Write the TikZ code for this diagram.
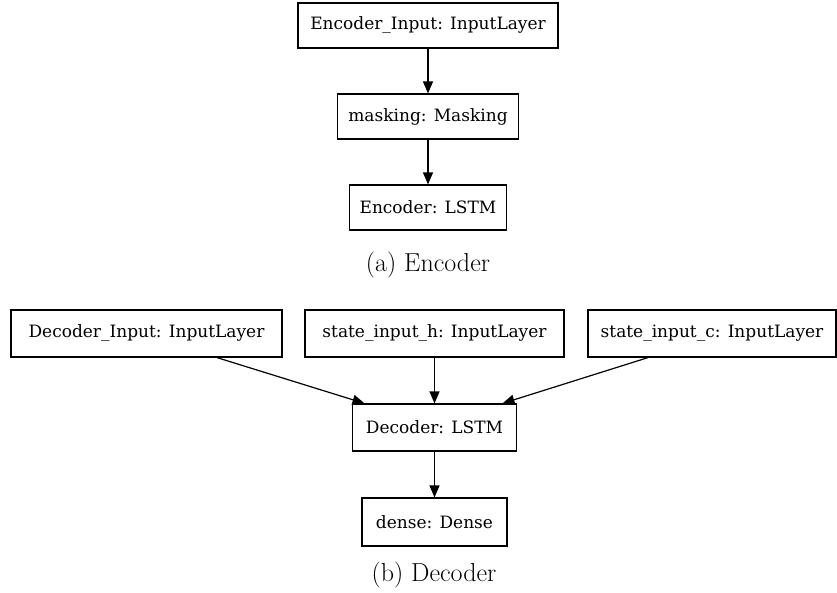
\documentclass[tikz,border=0pt]{standalone}
\usepackage{fontspec}
\newfontfamily\boxfont{DejaVu Serif}
\usetikzlibrary{arrows.meta}
\begin{document}
\begin{tikzpicture}[x=1pt,y=-1pt,
  layer/.style={draw, line width=1.2pt, inner sep=0pt, minimum height=45pt, font=\boxfont\fontsize{17}{20}\selectfont},
  conn/.style={line width=1.2pt, -{Triangle[length=12pt,width=10pt]}},
  captext/.style={font=\fontsize{26}{30}\selectfont}]
\useasboundingbox (0,0) rectangle (837,592);
\node[layer, minimum width=260pt] (ei) at (428,25.5) {Encoder\_Input: InputLayer};
\node[layer, minimum width=181pt] (mk) at (428,116.5) {masking: Masking};
\node[layer, minimum width=157pt] (el) at (428,207.5) {Encoder: LSTM};
\node[captext] (ca) at (428,265) {(a) Encoder};
\node[layer, minimum width=271pt, minimum height=47pt] (di) at (146.5,333.5) {Decoder\_Input: InputLayer};
\node[layer, minimum width=259pt, minimum height=47pt] (sh) at (434.5,333.5) {state\_input\_h: InputLayer};
\node[layer, minimum width=248pt, minimum height=47pt] (sc) at (712,333.5) {state\_input\_c: InputLayer};
\node[layer, minimum width=164pt, minimum height=47pt] (dl) at (434.5,427.5) {Decoder: LSTM};
\node[layer, minimum width=145pt, minimum height=48pt] (dn) at (434.5,522) {dense: Dense};
\node[captext] (cb) at (434,575) {(b) Decoder};
\draw[conn] (ei.south) -- (mk.north);
\draw[conn] (mk.south) -- (el.north);
\draw[conn] ([xshift=70.5pt]di.south) -- ([xshift=-70pt]dl.north);
\draw[conn] (sh.south) -- (dl.north);
\draw[conn] ([xshift=-64pt]sc.south) -- ([xshift=68pt]dl.north);
\draw[conn] (dl.south) -- (dn.north);
\end{tikzpicture}
\end{document}
